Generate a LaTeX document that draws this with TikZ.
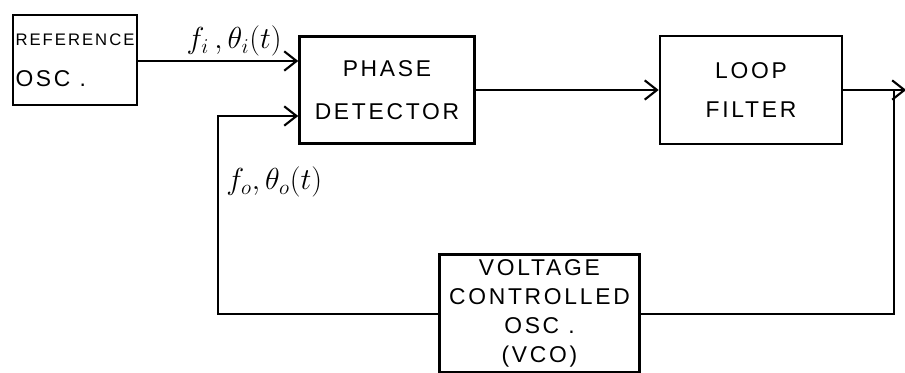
\documentclass[tikz,border=0pt]{standalone}
\usepackage{fontspec}
\newfontfamily\hand[LetterSpace=12]{Liberation Sans}
\usetikzlibrary{positioning,arrows.meta}

\begin{document}
\begin{tikzpicture}[
block/.style={
    draw,
    line width=1.4pt,
    inner sep=3pt,
    align=center,
    font=\hand\fontsize{13}{16.5}\selectfont
},
lbl/.style={
    font=\LARGE,
    inner sep=2pt
},
>={Straight Barb[length=7pt,width=11pt,line width=1.2pt]}
]
\useasboundingbox (0,0) rectangle (18.1,7.44);

\node[block, minimum width=2.48cm, minimum height=1.8cm, inner xsep=1pt, align=left] (ref) at (1.5,6.24)
{{\fontsize{9.5}{12}\selectfont REFERENCE}\\[7pt]OSC .};

\node[block, minimum width=3.5cm, minimum height=2.14cm] (detector) [right=3.2cm of ref, yshift=-0.6cm]
{PHASE\\[8pt]DETECTOR};

\node[block, minimum width=3.64cm, minimum height=2.16cm] (filter) [right=3.66cm of detector]
{LOOP\\[6pt]FILTER};

\node[block, minimum width=4cm, minimum height=2.36cm] (vco) [below=2.17cm of detector, xshift=3.05cm]
{VOLTAGE\\CONTROLLED\\OSC .\\(VCO)};

\coordinate (in1) at ([yshift=0.58cm]detector.west);
\coordinate (in2) at ([yshift=-0.52cm]detector.west);
\coordinate (junc) at ([xshift=1.02cm]filter.east);
\coordinate (out) at ([xshift=1.26cm]filter.east);

\draw[->,line width=1.2pt] (ref.east |- in1) -- node[lbl, above, pos=0.6] (filab) {$f_i\,,\theta_i(t)$} (in1);
\draw[->,line width=1.2pt] (detector.east) -- (detector.east -| filter.west);
\draw[->,line width=1.2pt] (filter.east) -- (out);
\draw[line width=1.2pt] (junc) |- (vco.east);
\draw[->,line width=1.2pt] (vco.west) -| ([xshift=-1.6cm]in2) -- (in2);

\node[lbl, anchor=west] (folab) at (4.45,3.8) {$f_o,\theta_o(t)$};

\end{tikzpicture}
\end{document}
